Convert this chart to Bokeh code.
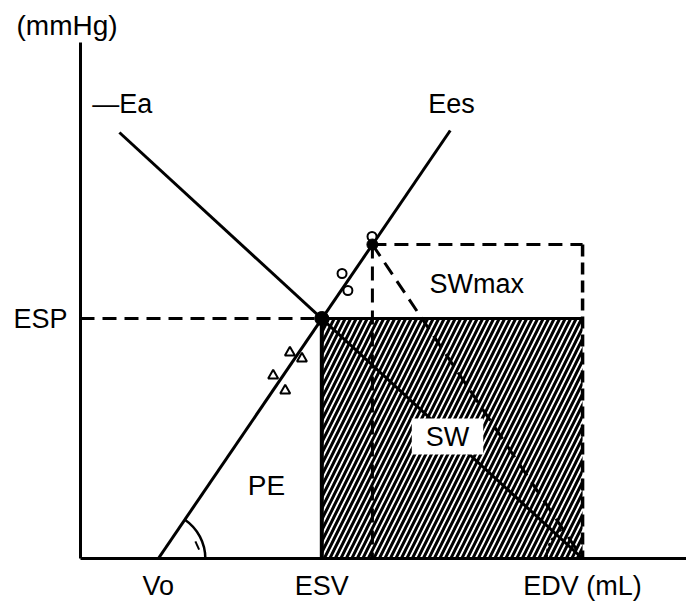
from bokeh.plotting import figure
from bokeh.models import Range1d, FixedTicker, Label
from bokeh.core.properties import value
from bokeh.embed import file_html
from bokeh.resources import INLINE

FONT = "Liberation Sans"
FS = "27px"

# Volumes (mL) and pressures (mmHg)
Vo = 20
ESV = 62
EDV = 129
V_opt = 75          # end-systolic volume at maximal stroke work
ESP = 120
P_opt = 157

ees_x = [20, 95]
ees_y = [0, 214]
ea_x = [10, 129]
ea_y = [213, 0]

tri_x = [53.8, 56.9, 49.5, 52.6]
tri_y = [103, 100, 91.5, 84]
circ_x = [74.9, 67.2, 68.7]
circ_y = [161, 142.5, 134]

x_ticks = [Vo, ESV, EDV]
x_tick_labels = ["Vo", "ESV", "EDV (mL)"]
y_ticks = [ESP]
y_tick_labels = ["ESP"]

p = figure(width=686, height=605, output_backend="svg", toolbar_location=None,
           x_range=Range1d(0, 155.7), y_range=Range1d(0, 258),
           min_border_left=80, min_border_right=0, min_border_top=42, min_border_bottom=47)
p.outline_line_color = None
p.grid.visible = False
p.background_fill_color = "white"

p.title.text = "(mmHg)"
p.title.text_font = FONT
p.title.text_font_size = "28px"
p.title.text_font_style = "normal"
p.title.text_color = "black"
p.title.align = "left"
p.title.offset = -64
p.title.standoff = 4

for ax in (p.xaxis[0], p.yaxis[0]):
    ax.axis_line_width = 3
    ax.axis_line_color = "black"
    ax.major_tick_line_color = None
    ax.minor_tick_line_color = None
    ax.major_label_text_font = FONT
    ax.major_label_text_font_size = FS
    ax.major_label_text_color = "black"

p.xaxis.ticker = FixedTicker(ticks=x_ticks)
p.xaxis.major_label_overrides = {t: l for t, l in zip(x_ticks, x_tick_labels)}
p.xaxis.major_label_standoff = 6
p.yaxis.ticker = FixedTicker(ticks=y_ticks)
p.yaxis.major_label_overrides = {t: l for t, l in zip(y_ticks, y_tick_labels)}
p.yaxis.major_label_standoff = 7

# stroke work area (hatched)
p.quad(left=[ESV], right=[EDV], bottom=[0], top=[ESP], fill_color="white",
       line_color=None, hatch_pattern="/", hatch_color="black",
       hatch_scale=11, hatch_weight=3)

# maximal stroke work rectangle (dashed)
p.line([V_opt, EDV], [P_opt, P_opt], line_color="black", line_width=3, line_dash="14 8")
p.line([EDV, EDV], [P_opt, 0], line_color="black", line_width=3.5, line_dash="12 6")
p.line([V_opt, V_opt], [P_opt, 0], line_color="black", line_width=3, line_dash="14 8")
p.line([V_opt, EDV], [P_opt, 0], line_color="black", line_width=3, line_dash="14 8")

# ESP reference lines
p.line([0, ESV], [ESP, ESP], line_color="black", line_width=3, line_dash="14 8")
p.line([ESV, EDV], [ESP, ESP], line_color="black", line_width=3)
p.line([ESV, ESV], [ESP, 0], line_color="black", line_width=4)

# Ees and Ea lines
p.line(ees_x, ees_y, line_color="black", line_width=3)
p.line(ea_x, ea_y, line_color="black", line_width=3)

# angle arcs
p.arc(x=[Vo], y=[0], radius=47, radius_units="screen", start_angle=0, end_angle=0.97,
      line_color="black", line_width=2.5)
p.scatter([30], [6.5], marker="dash", size=9, angle=2.0, line_color="black", line_width=2)
p.arc(x=[EDV], y=[0], radius=36, radius_units="screen", start_angle=2.2, end_angle=3.14,
      line_color="black", line_width=2.5, line_dash="3 3")

# data points along Ees
p.scatter(tri_x, tri_y, marker="triangle", size=10, fill_color="white",
          line_color="black", line_width=2)
p.scatter(circ_x, circ_y, marker="circle", size=9, fill_color="white",
          line_color="black", line_width=2)

# end-systolic points
p.scatter([ESV], [ESP], marker="circle", size=14, fill_color="black", line_color="black")
p.scatter([V_opt], [P_opt], marker="circle", size=11, fill_color="black", line_color="black")

# labels
p.text(x=[95.3], y=[227.5], text=["Ees"], text_font=value(FONT), text_font_size=FS,
       text_align="center", text_baseline="middle")
p.text(x=[3], y=[227.5], text=["\u2014Ea"], text_font=value(FONT), text_font_size=FS,
       text_align="left", text_baseline="middle")
p.text(x=[101.8], y=[137.5], text=["SWmax"], text_font=value(FONT), text_font_size=FS,
       text_align="center", text_baseline="middle")
p.text(x=[47.8], y=[36.5], text=["PE"], text_font=value(FONT), text_font_size="28px",
       text_align="center", text_baseline="middle")
p.add_layout(Label(x=94.3, y=61, text="SW", text_font=FONT, text_font_size=FS,
                   text_color="black", text_align="center", text_baseline="middle",
                   background_fill_color="white", padding=(14, 3)))

open("out.html", "w").write(file_html(p, INLINE))
